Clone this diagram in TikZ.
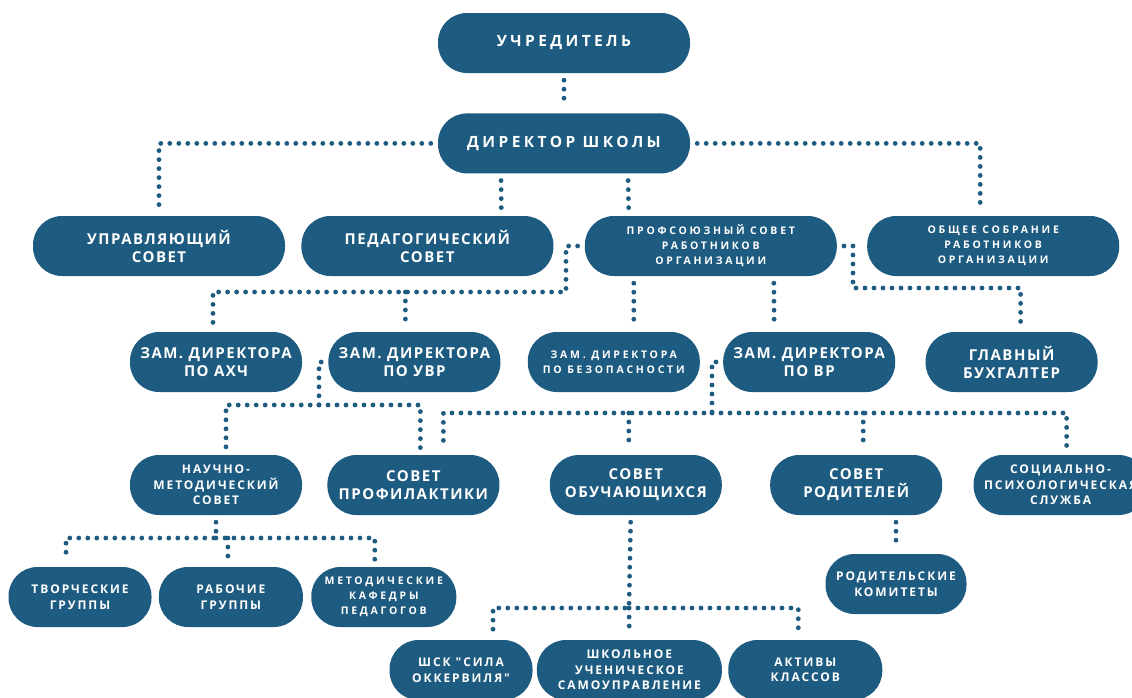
\documentclass[tikz,border=0pt]{standalone}
\usepackage{fontspec}
\usepackage{tikz}
\usetikzlibrary{positioning}
\newfontfamily\orgfonttop{Open Sans}[LetterSpace=22]
\newfontfamily\orgfont{Open Sans}[LetterSpace=10]
\newfontfamily\orgfontmid{Open Sans}[LetterSpace=16]
\newfontfamily\orgfontsmall{Open Sans}[LetterSpace=26]
\definecolor{schoolBlue}{RGB}{30, 91, 128}

\newcommand{\toporg}{\orgfonttop\bfseries\fontsize{15.5}{18}\selectfont}
\newcommand{\bigorg}{\orgfont\bfseries\fontsize{15}{18}\selectfont}
\newcommand{\midorg}{\orgfontmid\bfseries\fontsize{12}{15.5}\selectfont}
\newcommand{\smallorg}{\orgfontsmall\bfseries\fontsize{10.5}{15}\selectfont}

\begin{document}
\begin{tikzpicture}[
        x=1pt, y=-1pt,
        orgbox/.style={rectangle, rounded corners=29pt, fill=schoolBlue, text=white, minimum width=172pt, minimum height=60pt, inner sep=0pt, align=center, font=\bigorg},
        widebox/.style={orgbox, minimum width=252pt},
        dotline/.style={schoolBlue, line width=4.8pt, line cap=round, dash pattern=on 0pt off 9pt, shorten <=7pt, shorten >=7pt}
    ]
        \useasboundingbox (0,0) rectangle (1132,697);
        \clip (0,0) rectangle (1132,697);

        % Head
        \node[widebox, font=\toporg] (uchr) at (564,43) {УЧРЕДИТЕЛЬ};
        \node[widebox, font=\toporg, below=40pt of uchr] (dir) {ДИРЕКТОР ШКОЛЫ};

        % Councils
        \node[widebox] (upr) at (159,246) {УПРАВЛЯЮЩИЙ\\СОВЕТ};
        \node[widebox, right=16pt of upr] (ped) {ПЕДАГОГИЧЕСКИЙ\\СОВЕТ};
        \node[widebox, font=\smallorg, right=31pt of ped] (prof) {ПРОФСОЮЗНЫЙ СОВЕТ\\РАБОТНИКОВ\\ОРГАНИЗАЦИИ};
        \node[widebox, font=\smallorg, right=30pt of prof] (obsh) {ОБЩЕЕ СОБРАНИЕ\\РАБОТНИКОВ\\ОРГАНИЗАЦИИ};

        % Deputies
        \node[orgbox] (axch) at (216,362) {ЗАМ. ДИРЕКТОРА\\ПО АХЧ};
        \node[orgbox, right=26pt of axch] (uvr) {ЗАМ. ДИРЕКТОРА\\ПО УВР};
        \node[orgbox, font=\smallorg, right=27pt of uvr] (bez) {ЗАМ. ДИРЕКТОРА\\ПО БЕЗОПАСНОСТИ};
        \node[orgbox, right=23pt of bez] (vr) {ЗАМ. ДИРЕКТОРА\\ПО ВР};
        \node[orgbox, right=30pt of vr] (buh) {ГЛАВНЫЙ\\БУХГАЛТЕР};

        % Fourth row
        \node[orgbox, font=\midorg] (nms) at (216,485) {НАУЧНО-\\МЕТОДИЧЕСКИЙ\\СОВЕТ};
        \node[orgbox, right=25pt of nms] (profl) {СОВЕТ\\ПРОФИЛАКТИКИ};
        \node[orgbox, right=50pt of profl] (sobuch) {СОВЕТ\\ОБУЧАЮЩИХСЯ};
        \node[orgbox, right=48pt of sobuch] (srod) {СОВЕТ\\РОДИТЕЛЕЙ};
        \node[orgbox, font=\midorg, minimum width=174pt, right=31pt of srod] (soc) {СОЦИАЛЬНО-\\ПСИХОЛОГИЧЕСКАЯ\\СЛУЖБА};

        % Groups and committees
        \node[orgbox, font=\midorg, minimum width=143pt] (tvor) at (80,597) {ТВОРЧЕСКИЕ\\ГРУППЫ};
        \node[orgbox, font=\midorg, minimum width=144pt, right=7pt of tvor] (rab) {РАБОЧИЕ\\ГРУППЫ};
        \node[orgbox, font=\smallorg, minimum width=145pt, right=8pt of rab] (met) {МЕТОДИЧЕСКИЕ\\КАФЕДРЫ\\ПЕДАГОГОВ};
        \node[orgbox, font=\midorg, minimum width=141pt] (rodkom) at (896,584) {РОДИТЕЛЬСКИЕ\\КОМИТЕТЫ};

        % Student bodies
        \node[orgbox, font=\midorg, minimum width=143pt] (shsk) at (461,670) {ШСК "СИЛА\\ОККЕРВИЛЯ"};
        \node[orgbox, font=\midorg, minimum width=185pt, right=4pt of shsk] (shk) {ШКОЛЬНОЕ\\УЧЕНИЧЕСКОЕ\\САМОУПРАВЛЕНИЕ};
        \node[orgbox, font=\midorg, minimum width=154pt, right=6pt of shk] (akt) {АКТИВЫ\\КЛАССОВ};

        % Junctions
        \coordinate (jProf) at (566,292);
        \coordinate (jBuh) at (853,288);
        \coordinate (jUvr) at (319,405);
        \coordinate (jVr) at (712,413);
        \coordinate (jNms) at (216,538);
        \coordinate (jSob) at (629,608);

        % Director links
        \draw[dotline] (uchr) -- (dir);
        \draw[dotline] (dir.west) -| (upr.north);
        \draw[dotline] (dir.east) -| ([xshift=-13pt]obsh.north);
        \draw[dotline] ([xshift=-63pt]dir.south) -- ([xshift=74pt]ped.north);
        \draw[dotline] ([xshift=64pt]dir.south) -- ([xshift=-82pt]prof.north);

        % Union council links
        \draw[dotline] (prof.west) -| (jProf) -| ([xshift=-3pt]axch.north);
        \draw[dotline, shorten <=0pt] ([xshift=-9pt]uvr.north |- jProf) -- ([xshift=-9pt]uvr.north);
        \draw[dotline] ([xshift=-77pt]prof.south) -- ([xshift=20pt]bez.north);
        \draw[dotline] ([xshift=63pt]prof.south) -- ([xshift=-35pt]vr.north);
        \draw[dotline] (prof.east) -| (jBuh) -| ([xshift=9pt]buh.north);

        % Deputy links
        \draw[dotline] (uvr.west) -| (jUvr) -| ([xshift=10pt]nms.north);
        \draw[dotline, shorten <=0pt] (jUvr) -| ([xshift=7pt]profl.north);
        \draw[dotline] (vr.west) -| (jVr) -| ([xshift=30pt]profl.north);
        \draw[dotline, shorten <=0pt] (jVr) -| ([xshift=6pt]soc.north);
        \draw[dotline, shorten <=0pt] ([xshift=-7pt]sobuch.north |- jVr) -- ([xshift=-7pt]sobuch.north);
        \draw[dotline, shorten <=0pt] ([xshift=7pt]srod.north |- jVr) -- ([xshift=7pt]srod.north);

        % Lower links
        \draw[dotline] (nms.south) -- (jNms) -| ([xshift=-14pt]tvor.north);
        \draw[dotline, shorten <=0pt] (jNms) -| ([xshift=-9pt]met.north);
        \draw[dotline, shorten <=0pt] ([xshift=-3pt]rab.north |- jNms) -- ([xshift=-3pt]rab.north);
        \draw[dotline] (rodkom.north |- srod.south) -- (rodkom.north);
        \draw[dotline] ([xshift=-5pt]sobuch.south) -- (jSob) -| ([xshift=32pt]shsk.north);
        \draw[dotline, shorten <=0pt] (jSob) -| ([xshift=-7pt]akt.north);
        \draw[dotline, shorten <=0pt] (jSob) -- (shk.north);
    \end{tikzpicture}
\end{document}
